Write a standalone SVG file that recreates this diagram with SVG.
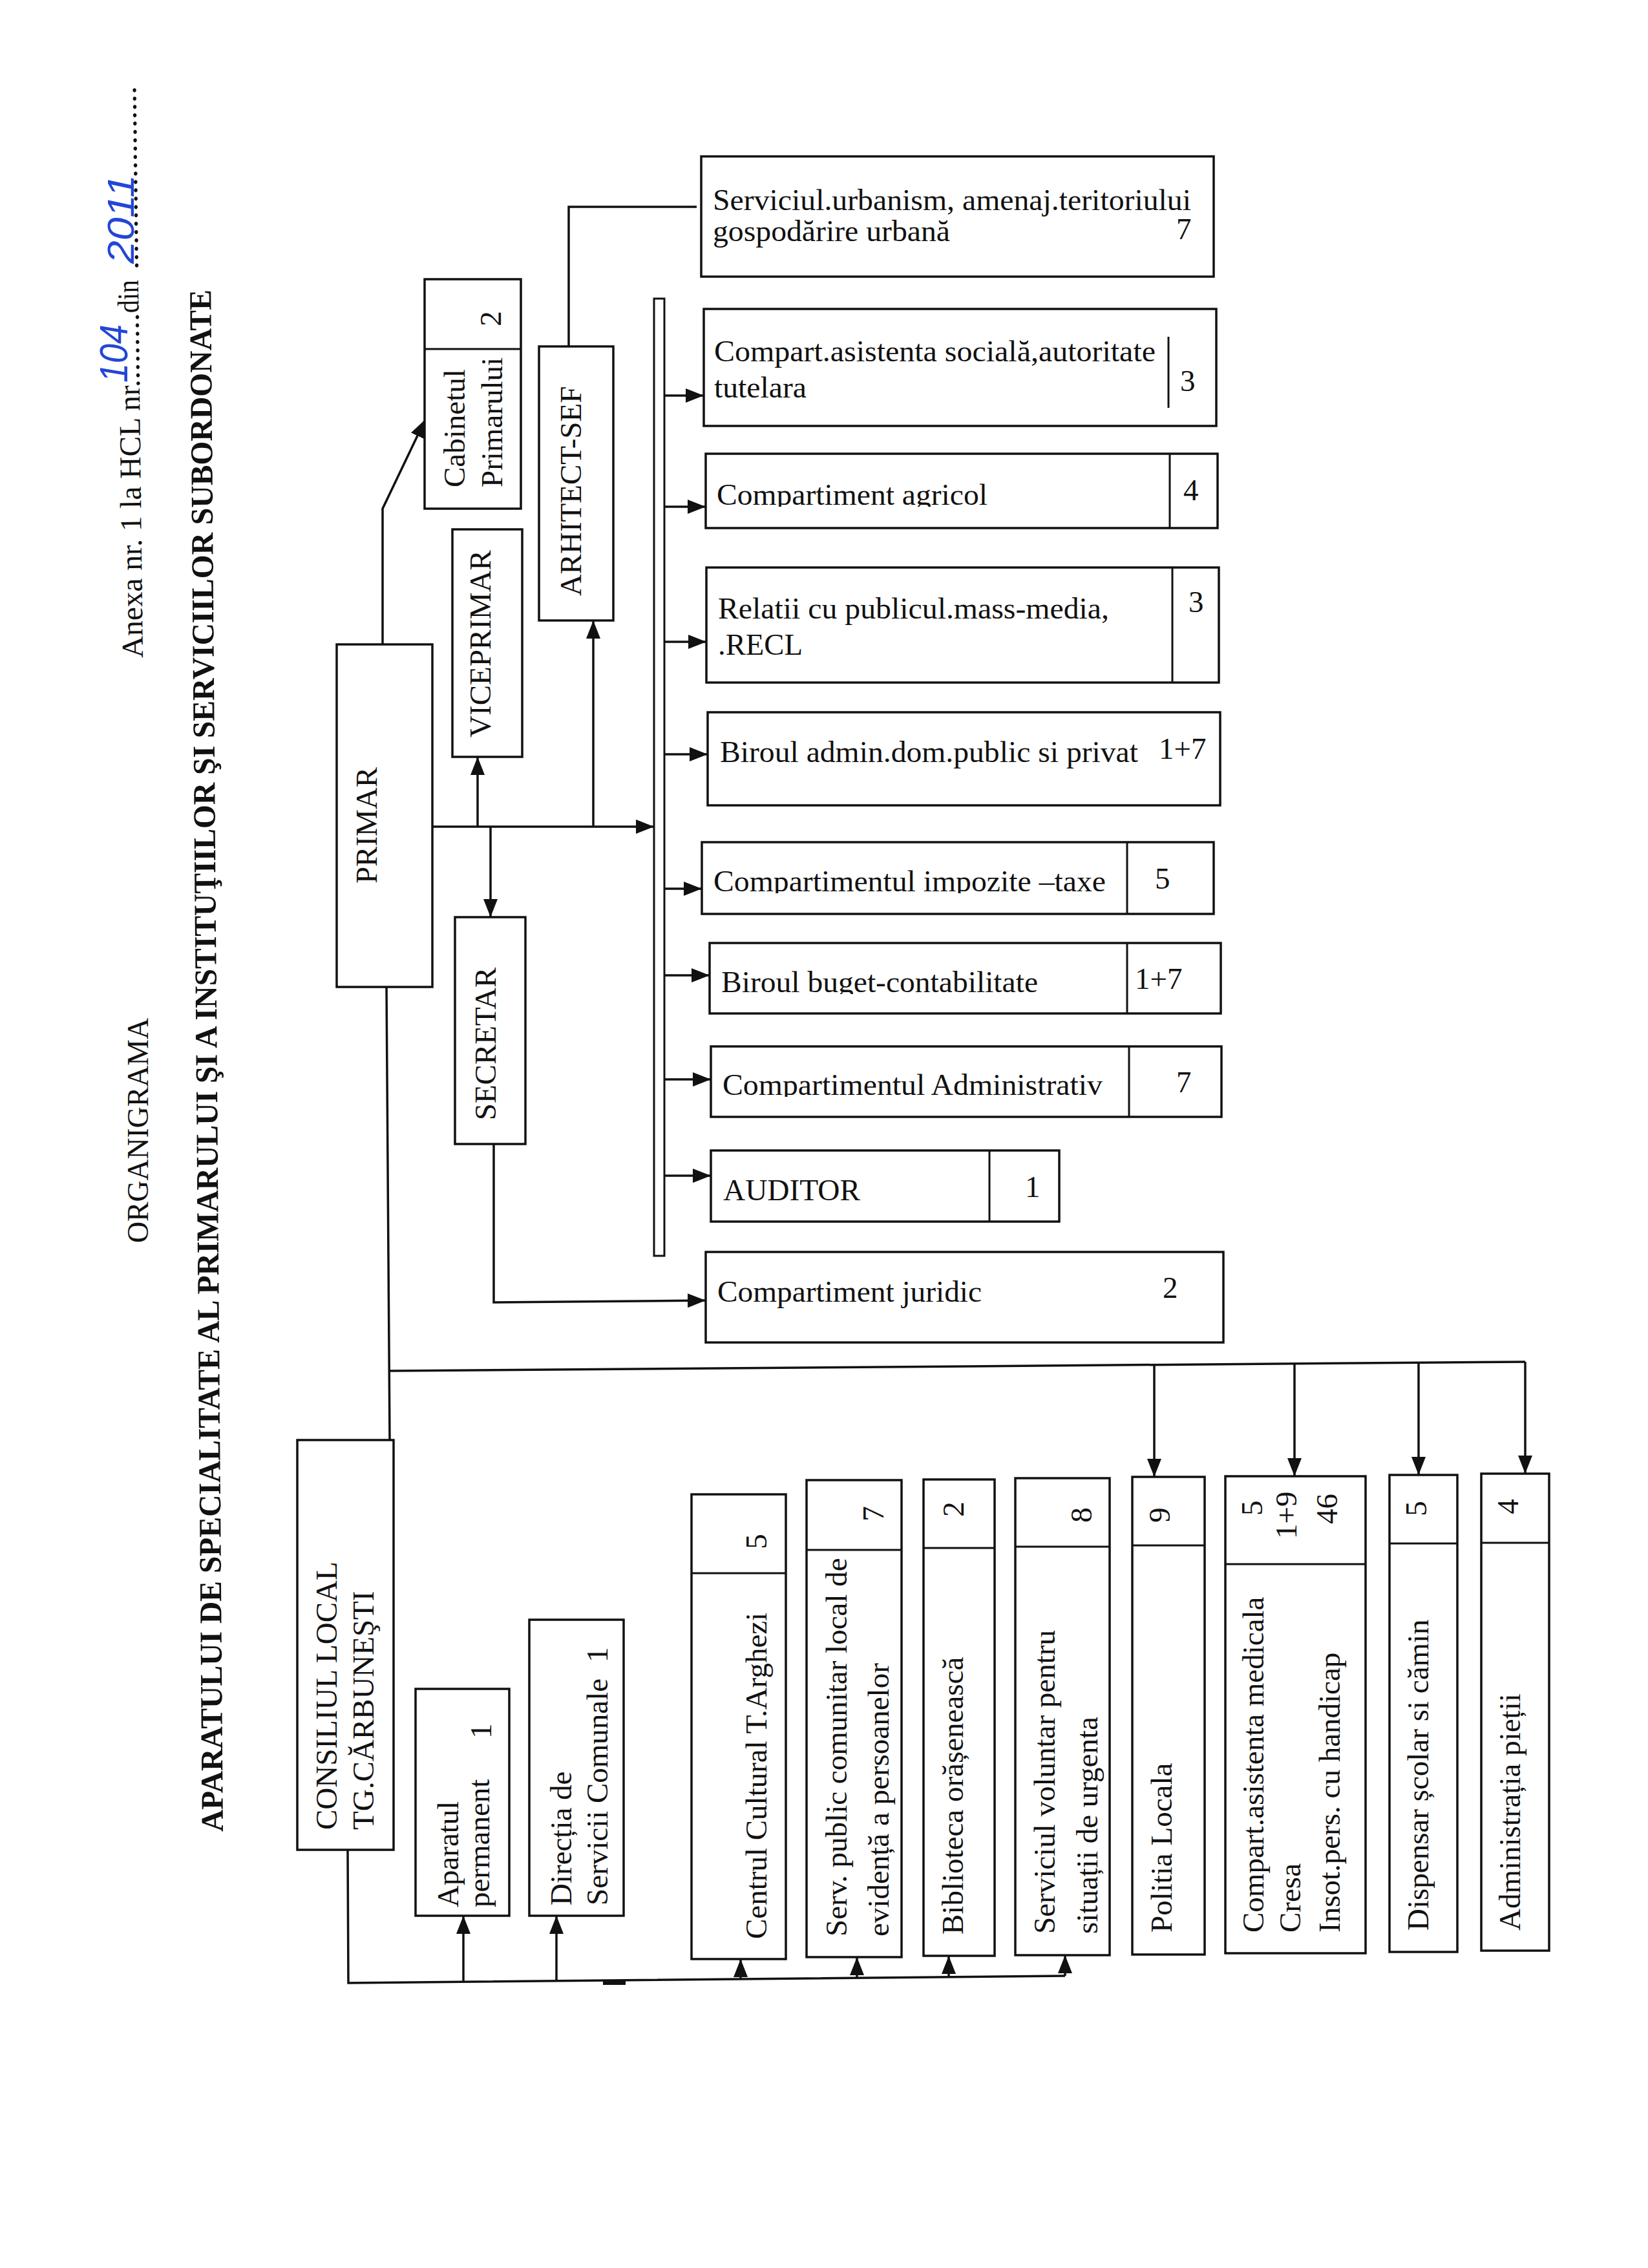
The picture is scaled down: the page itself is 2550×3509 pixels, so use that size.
<svg xmlns="http://www.w3.org/2000/svg" width="2550" height="3509" viewBox="0 0 2550 3509">
<defs>
<style>
.bx{fill:#fff;stroke:#111;stroke-width:3.5}
.dv{fill:none;stroke:#111;stroke-width:3}
.ln{fill:none;stroke:#111;stroke-width:3.5}
.ar{fill:none;stroke:#111;stroke-width:3.5;marker-end:url(#ah)}
.t{font-family:"Liberation Serif","Times New Roman",serif;font-size:47px;fill:#111}
.m{text-anchor:middle}
.ttl{font-family:"Liberation Serif","Times New Roman",serif;font-size:49px;font-weight:bold;fill:#111}
.hw{font-family:"Liberation Sans",Arial,sans-serif;font-style:italic;fill:#2346d6}
</style>
<marker id="ah" markerUnits="userSpaceOnUse" markerWidth="30" markerHeight="22" refX="28" refY="11" orient="auto">
<path d="M0,0 L28,11 L0,22 z" fill="#111"/>
</marker>
<clipPath id="c1"><rect x="1092" y="702" width="720" height="82"/></clipPath>
<clipPath id="c2"><rect x="1086" y="1303" width="660" height="79"/></clipPath>
<clipPath id="c3"><rect x="1098" y="1459" width="648" height="79"/></clipPath>
<clipPath id="c4"><rect x="1100" y="1619" width="648" height="78"/></clipPath>
</defs>
<rect x="0" y="0" width="2550" height="3509" fill="#fff"/>

<g id="header">
<text class="t" font-size="46" transform="translate(229,1923) rotate(-90)" textLength="348" lengthAdjust="spacingAndGlyphs">ORGANIGRAMA</text>
<g transform="translate(221,1018) rotate(-90.7)">
<text class="t" font-size="46" x="0" y="0" textLength="431" lengthAdjust="spacingAndGlyphs">Anexa nr. 1 la HCL nr.</text>
<text class="t" font-size="46" x="431" y="0" textLength="103" lengthAdjust="spacingAndGlyphs">........</text>
<text class="t" font-size="46" x="534" y="0" textLength="51" lengthAdjust="spacingAndGlyphs">din</text>
<text class="t" font-size="46" x="601" y="0" textLength="284" lengthAdjust="spacingAndGlyphs">......................</text>
</g>
<text class="hw" font-size="62" transform="translate(197,592) rotate(-90)" textLength="90" lengthAdjust="spacingAndGlyphs">104</text>
<text class="hw" font-size="58" transform="translate(207,408) rotate(-90)" textLength="138" lengthAdjust="spacingAndGlyphs">2011</text>
<text class="ttl" transform="translate(345,2834) rotate(-90.45)" textLength="2386" lengthAdjust="spacingAndGlyphs">APARATULUI DE SPECIALITATE AL PRIMARULUI  ŞI A INSTITUŢIILOR ŞI SERVICIILOR SUBORDONATE</text>
</g>

<g id="connectors">
<polyline class="ar" points="592,997 592,787 658,649"/>
<polyline class="ln" points="880,536 880,320 1078,320"/>
<line class="ar" x1="669" y1="1279" x2="1012" y2="1279"/>
<line class="ar" x1="739" y1="1279" x2="739" y2="1171"/>
<line class="ar" x1="759" y1="1279" x2="759" y2="1419"/>
<line class="ar" x1="918" y1="1279" x2="918" y2="960"/>
<rect x="1012" y="462" width="16" height="1481" fill="#fff" stroke="#111" stroke-width="3"/>
<line class="ar" x1="1028" y1="612" x2="1089" y2="612"/>
<line class="ar" x1="1028" y1="784" x2="1092" y2="784"/>
<line class="ar" x1="1028" y1="993" x2="1093" y2="993"/>
<line class="ar" x1="1028" y1="1167" x2="1095" y2="1167"/>
<line class="ar" x1="1028" y1="1375" x2="1086" y2="1375"/>
<line class="ar" x1="1028" y1="1509" x2="1098" y2="1509"/>
<line class="ar" x1="1028" y1="1670" x2="1100" y2="1670"/>
<line class="ar" x1="1028" y1="1819" x2="1100" y2="1819"/>
<polyline class="ar" points="764,1770 764,2015 1092,2012"/>
<line class="ln" x1="598" y1="1527" x2="603" y2="2228"/>
<line class="ln" x1="603" y1="2121" x2="2360" y2="2107"/>
<line class="ar" x1="1786" y1="2112" x2="1786" y2="2285"/>
<line class="ar" x1="2003" y1="2110" x2="2003" y2="2284"/>
<line class="ar" x1="2195" y1="2108" x2="2195" y2="2282"/>
<line class="ar" x1="2360" y1="2107" x2="2360" y2="2280"/>
<polyline class="ln" points="538,2862 539,3068 1648,3057"/>
<line class="ar" x1="717" y1="3066" x2="717" y2="2964"/>
<line class="ar" x1="861" y1="3065" x2="861" y2="2964"/>
<line class="ar" x1="1146" y1="3062" x2="1146" y2="3031"/>
<line class="ar" x1="1326" y1="3060" x2="1326" y2="3028"/>
<line class="ar" x1="1468" y1="3059" x2="1468" y2="3026"/>
<line class="ar" x1="1648" y1="3057" x2="1648" y2="3025"/>
<line x1="933" y1="3068" x2="968" y2="3068" stroke="#111" stroke-width="6"/>
</g>

<g id="node-primar">
<rect class="bx" x="521" y="997" width="148" height="530"/>
<text class="t m" transform="translate(583,1277) rotate(-90)">PRIMAR</text>
</g>
<g id="node-cabinet">
<rect class="bx" x="657" y="432" width="149" height="355"/>
<line class="dv" x1="657" y1="540" x2="806" y2="540"/>
<text class="t" transform="translate(719,754) rotate(-90)">Cabinetul</text>
<text class="t" transform="translate(777,754) rotate(-90)">Primarului</text>
<text class="t m" transform="translate(775,493) rotate(-90)">2</text>
</g>
<g id="node-viceprimar">
<rect class="bx" x="700" y="819" width="108" height="352"/>
<text class="t m" transform="translate(759,996) rotate(-90)">VICEPRIMAR</text>
</g>
<g id="node-arhitect">
<rect class="bx" x="834" y="536" width="115" height="424"/>
<text class="t m" transform="translate(899,760) rotate(-90)">ARHITECT-SEF</text>
</g>
<g id="node-secretar">
<rect class="bx" x="704" y="1419" width="109" height="351"/>
<text class="t m" transform="translate(767,1615) rotate(-90)">SECRETAR</text>
</g>

<g id="node-urbanism">
<rect class="bx" x="1085" y="242" width="793" height="186"/>
<text class="t" x="1103" y="325" textLength="740" lengthAdjust="spacingAndGlyphs">Serviciul.urbanism, amenaj.teritoriului</text>
<text class="t" x="1103" y="373" textLength="367" lengthAdjust="spacingAndGlyphs">gospodărire urbană</text>
<text class="t" x="1820" y="370">7</text>
</g>
<g id="node-asistenta-sociala">
<rect class="bx" x="1089" y="478" width="793" height="181"/>
<line class="dv" x1="1808" y1="521" x2="1808" y2="631"/>
<text class="t" x="1105" y="559" textLength="683" lengthAdjust="spacingAndGlyphs">Compart.asistenta socială,autoritate</text>
<text class="t" x="1105" y="615" textLength="143" lengthAdjust="spacingAndGlyphs">tutelara</text>
<text class="t" x="1826" y="605">3</text>
</g>
<g id="node-agricol">
<rect class="bx" x="1092" y="702" width="792" height="115"/>
<line class="dv" x1="1810" y1="702" x2="1810" y2="817"/>
<text class="t" x="1109" y="781" textLength="419" lengthAdjust="spacingAndGlyphs" clip-path="url(#c1)">Compartiment agricol</text>
<text class="t" x="1831" y="774">4</text>
</g>
<g id="node-relatii">
<rect class="bx" x="1093" y="878" width="793" height="178"/>
<line class="dv" x1="1814" y1="878" x2="1814" y2="1056"/>
<text class="t" x="1111" y="957" textLength="605" lengthAdjust="spacingAndGlyphs">Relatii cu publicul.mass-media,</text>
<text class="t" x="1111" y="1013" textLength="131" lengthAdjust="spacingAndGlyphs">.RECL</text>
<text class="t" x="1839" y="947">3</text>
</g>
<g id="node-birou-admin">
<rect class="bx" x="1095" y="1102" width="793" height="144"/>
<text class="t" x="1114" y="1179" textLength="647" lengthAdjust="spacingAndGlyphs">Biroul admin.dom.public si privat</text>
<text class="t" x="1793" y="1174">1+7</text>
</g>
<g id="node-impozite">
<rect class="bx" x="1086" y="1303" width="792" height="111"/>
<line class="dv" x1="1744" y1="1303" x2="1744" y2="1414"/>
<text class="t" x="1104" y="1379" textLength="607" lengthAdjust="spacingAndGlyphs" clip-path="url(#c2)">Compartimentul impozite –taxe</text>
<text class="t" x="1787" y="1375">5</text>
</g>
<g id="node-buget">
<rect class="bx" x="1098" y="1459" width="791" height="109"/>
<line class="dv" x1="1744" y1="1459" x2="1744" y2="1568"/>
<text class="t" x="1116" y="1535" textLength="490" lengthAdjust="spacingAndGlyphs" clip-path="url(#c3)">Biroul buget-contabilitate</text>
<text class="t" x="1756" y="1530">1+7</text>
</g>
<g id="node-administrativ">
<rect class="bx" x="1100" y="1619" width="790" height="109"/>
<line class="dv" x1="1747" y1="1619" x2="1747" y2="1728"/>
<text class="t" x="1118" y="1694" textLength="588" lengthAdjust="spacingAndGlyphs" clip-path="url(#c4)">Compartimentul Administrativ</text>
<text class="t" x="1820" y="1690">7</text>
</g>
<g id="node-auditor">
<rect class="bx" x="1100" y="1780" width="539" height="110"/>
<line class="dv" x1="1531" y1="1780" x2="1531" y2="1890"/>
<text class="t" x="1119" y="1857" textLength="212" lengthAdjust="spacingAndGlyphs">AUDITOR</text>
<text class="t" x="1586" y="1852">1</text>
</g>
<g id="node-juridic">
<rect class="bx" x="1092" y="1937" width="801" height="140"/>
<text class="t" x="1110" y="2014" textLength="409" lengthAdjust="spacingAndGlyphs">Compartiment juridic</text>
<text class="t" x="1799" y="2008">2</text>
</g>

<g id="node-consiliu">
<rect class="bx" x="460" y="2228" width="149" height="634"/>
<text class="t" transform="translate(521,2831) rotate(-90)">CONSILIUL LOCAL</text>
<text class="t" transform="translate(578,2831) rotate(-90)">TG.CĂRBUNEŞTI</text>
</g>
<g id="node-aparatul">
<rect class="bx" x="643" y="2613" width="145" height="351"/>
<text class="t" transform="translate(709,2951) rotate(-90)">Aparatul</text>
<text class="t" transform="translate(757,2951) rotate(-90)">permanent</text>
<text class="t" transform="translate(760,2690) rotate(-90)">1</text>
</g>
<g id="node-directia">
<rect class="bx" x="819" y="2506" width="146" height="458"/>
<text class="t" transform="translate(884,2948) rotate(-90)">Direcția de</text>
<text class="t" transform="translate(940,2948) rotate(-90)">Servicii Comunale</text>
<text class="t" transform="translate(940,2572) rotate(-90)">1</text>
</g>
<g id="node-centrul">
<rect class="bx" x="1070" y="2312" width="146" height="719"/>
<line class="dv" x1="1070" y1="2434" x2="1216" y2="2434"/>
<text class="t" transform="translate(1186,3000) rotate(-90)">Centrul Cultural T.Arghezi</text>
<text class="t m" transform="translate(1186,2385) rotate(-90)">5</text>
</g>
<g id="node-serv-public">
<rect class="bx" x="1248" y="2290" width="147" height="738"/>
<line class="dv" x1="1248" y1="2398" x2="1395" y2="2398"/>
<text class="t" transform="translate(1310,2996) rotate(-90)">Serv. public comunitar local de</text>
<text class="t" transform="translate(1375,2996) rotate(-90)">evidență a persoanelor</text>
<text class="t m" transform="translate(1367,2342) rotate(-90)">7</text>
</g>
<g id="node-biblioteca">
<rect class="bx" x="1429" y="2289" width="110" height="737"/>
<line class="dv" x1="1429" y1="2395" x2="1539" y2="2395"/>
<text class="t" transform="translate(1490,2993) rotate(-90)">Biblioteca orășenească</text>
<text class="t m" transform="translate(1491,2335) rotate(-90)">2</text>
</g>
<g id="node-voluntar">
<rect class="bx" x="1571" y="2287" width="146" height="738"/>
<line class="dv" x1="1571" y1="2393" x2="1717" y2="2393"/>
<text class="t" transform="translate(1632,2992) rotate(-90)">Serviciul voluntar pentru</text>
<text class="t" transform="translate(1698,2992) rotate(-90)">situații de urgenta</text>
<text class="t m" transform="translate(1689,2344) rotate(-90)">8</text>
</g>
<g id="node-politia">
<rect class="bx" x="1752" y="2285" width="112" height="739"/>
<line class="dv" x1="1752" y1="2391" x2="1864" y2="2391"/>
<text class="t" transform="translate(1813,2990) rotate(-90)">Politia Locala</text>
<text class="t m" transform="translate(1810,2344) rotate(-90)">9</text>
</g>
<g id="node-asistenta-medicala">
<rect class="bx" x="1896" y="2284" width="217" height="738"/>
<line class="dv" x1="1896" y1="2420" x2="2113" y2="2420"/>
<text class="t" transform="translate(1955,2990) rotate(-90)">Compart.asistenta medicala</text>
<text class="t" transform="translate(2012,2990) rotate(-90)">Cresa</text>
<text class="t" transform="translate(2073,2990) rotate(-90)">Insot.pers. cu handicap</text>
<text class="t" transform="translate(1953,2345) rotate(-90)">5</text>
<text class="t" transform="translate(2006,2381) rotate(-90)">1+9</text>
<text class="t" transform="translate(2069,2358) rotate(-90)">46</text>
</g>
<g id="node-dispensar">
<rect class="bx" x="2150" y="2282" width="105" height="738"/>
<line class="dv" x1="2150" y1="2388" x2="2255" y2="2388"/>
<text class="t" transform="translate(2210,2987) rotate(-90)">Dispensar școlar si cămin</text>
<text class="t m" transform="translate(2207,2334) rotate(-90)">5</text>
</g>
<g id="node-piete">
<rect class="bx" x="2292" y="2280" width="105" height="738"/>
<line class="dv" x1="2292" y1="2387" x2="2397" y2="2387"/>
<text class="t" transform="translate(2352,2987) rotate(-90)">Administrația pieții</text>
<text class="t m" transform="translate(2349,2331) rotate(-90)">4</text>
</g>
</svg>
